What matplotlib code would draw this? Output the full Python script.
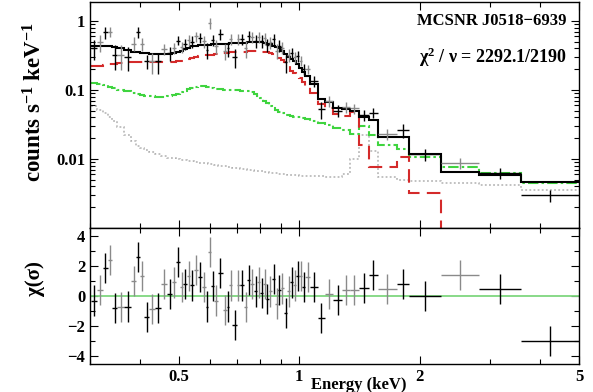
import numpy as np
import matplotlib.pyplot as plt
from matplotlib.ticker import FixedLocator, NullFormatter, LogLocator

plt.rcParams['font.family'] = ['Liberation Serif', 'DejaVu Serif']
plt.rcParams['font.weight'] = 'bold'
plt.rcParams['mathtext.fontset'] = 'custom'
plt.rcParams['mathtext.rm'] = 'Liberation Serif:bold'
plt.rcParams['mathtext.default'] = 'rm'

# bin edges (keV)
edges = [0.301, 0.313, 0.323, 0.333, 0.341, 0.351, 0.365, 0.380, 0.391, 0.400,
         0.410, 0.422, 0.436, 0.452, 0.468, 0.482, 0.493, 0.503, 0.513, 0.524,
         0.534, 0.547, 0.559, 0.572, 0.584, 0.593, 0.601, 0.614, 0.628, 0.643,
         0.658, 0.669, 0.681, 0.697, 0.713, 0.729, 0.742, 0.755, 0.771, 0.784,
         0.798, 0.812, 0.826, 0.840, 0.855, 0.870, 0.885, 0.900, 0.916, 0.932,
         0.948, 0.965, 0.982, 0.999, 1.016, 1.034, 1.065, 1.112, 1.161, 1.216,
         1.277, 1.337, 1.409, 1.492, 1.572, 1.754, 1.885, 2.262, 2.816, 3.587, 5.0]

# total model (black)
model = [.44, .44, .44, .43, .42, .41, .38, .36, .35, .34,
         .34, .335, .33, .33, .33, .34, .35, .37, .39, .41,
         .43, .44, .45, .45, .45, .45, .46, .46, .47, .47,
         .47, .48, .48, .48, .48, .48, .49, .49, .49, .49,
         .49, .48, .47, .46, .44, .42, .40, .37, .33, .30,
         .28, .26, .24, .21, .18, .16, .12, .075, .068, .055,
         .053, .050, .040, .037, .021, .021, .0118, .0065, .0058, .0047]

# thermal component (red dashed)
comp_red = [.22, .225, .23, .235, .24, .245, .25, .25, .25, .25,
            .25, .25, .25, .25, .25, .255, .26, .265, .27, .28,
            .29, .30, .31, .315, .32, .32, .325, .33, .335, .34,
            .345, .35, .35, .355, .36, .36, .365, .365, .365, .365,
            .36, .355, .35, .34, .33, .31, .29, .27, .25, .22,
            .19, .175, .165, .15, .13, .11, .09, .062, .055, .045,
            .042, .048, .016, .0076, .0076, .0107, .0032, 1e-5, 1e-5, 1e-5]

# background component (green dash-dot)
comp_green = [.126, .122, .117, .112, .107, .101, .095, .09, .087, .085,
              .083, .081, .08, .08, .081, .084, .088, .092, .097, .102,
              .106, .11, .113, .114, .112, .11, .107, .104, .102, .101,
              .1, .1, .1, .099, .098, .097, .096, .092, .088, .082,
              .076, .07, .064, .059, .055, .051, .048, .046, .044, .043,
              .042, .041, .04, .04, .039, .038, .036, .033, .031, .028,
              .026, .023, .03, .022, .016, .014, .0107, .0076, .0063, .0045]

# grey dotted component
comp_grey = [.058, .051, .046, .041, .035, .029, .022, .018, .0155, .0145,
             .0135, .0125, .0117, .011, .0105, .0102, .01, .0098, .0096, .0094,
             .0092, .009, .0088, .0087, .0086, .0085, .0084, .0082, .008, .0078,
             .0077, .0076, .0075, .0073, .0072, .0071, .007, .0069, .0068, .0067,
             .0066, .0065, .0064, .0063, .0062, .0062, .0061, .006, .006, .0059,
             .0059, .0058, .0058, .0057, .0057, .0057, .0056, .0056, .0055, .0055,
             .006, .01, .022, .013, .0055, .005, .0048, .0045, .0042, .0036]

# measured rate and 1-sigma errors
rate = [.40, .49, .68, .70, .32, .32, .30, .47, .69, .47,
        .26, .26, .26, .39, .34, .41, .52, .42, .46, .53,
        .50, .60, .57, .51, .38, .93, .53, .43, .65, .37,
        .40, .55, .30, .55, .55, .40, .60, .58, .52, .59,
        .51, .56, .45, .49, .55, .37, .44, .41, .25, .32,
        .34, .30, .31, .265, .20, .20, .134, .053, .070, .050,
        .057, .054, .044, .047, .023, .026, .0117, .0087, .0063, .0030]
rate_err = [.13, .13, .13, .12, .126, .123, .114, .108, .13, .10,
            .057, .088, .088, .073, .073, .075, .077, .081, .086, .09,
            .095, .097, .099, .099, .099, .165, .10, .10, .12, .10,
            .10, .105, .095, .10, .10, .105, .105, .108, .108, .108,
            .108, .105, .10, .10, .097, .092, .088, .081, .073, .066,
            .062, .057, .053, .042, .036, .032, .024, .015, .013, .010,
            .010, .0096, .008, .0074, .0042, .006, .0024, .0016, .0011, .0006]

# residuals in sigma
chi = [-0.3, 0.4, 1.85, 2.4, -0.8, -0.75, -0.7, 1.0, 2.6, 1.3,
       -1.4, -0.85, -0.8, 0.8, 0.15, 0.9, 2.25, 0.6, 0.8, 1.3,
       0.7, 1.7, 1.25, 0.6, -0.7, 2.9, 0.65, -0.3, 1.5, -0.95,
       -0.7, 0.7, -1.9, 0.7, 0.7, -0.75, 1.05, 0.8, 0.3, 0.9,
       0.2, 0.8, -0.2, 0.3, 1.1, -0.5, 0.4, 0.5, -1.1, 0.3,
       0.9, 0.7, 1.3, 1.3, 0.6, 1.25, 0.6, -1.45, 0.15, -0.25,
       0.4, 0.4, 0.55, 1.4, 0.45, 0.8, 0.0, 1.4, 0.45, -3.0]

# 0 = black points, 1 = grey points
group = [0, 1, 0, 1, 0, 1, 0, 1, 0, 1,
         0, 1, 0, 1, 0, 1, 0, 1, 0, 1,
         0, 1, 0, 1, 0, 1, 0, 1, 0, 1,
         0, 1, 0, 1, 0, 1, 0, 1, 0, 1,
         0, 1, 0, 1, 0, 1, 0, 1, 0, 1,
         0, 1, 0, 1, 0, 1, 0, 0, 1, 0,
         1, 1, 0, 0, 1, 0, 0, 1, 0, 0]

edges = np.array(edges)
cen = np.sqrt(edges[:-1] * edges[1:])
xlo = cen - edges[:-1]
xhi = edges[1:] - cen
cols = ['black' if g == 0 else '#8a8a8a' for g in group]

fig = plt.figure(figsize=(5.93, 3.92), dpi=100)
ax1 = fig.add_axes([90/593, 1-228/392, 489/593, 226/392])
ax2 = fig.add_axes([90/593, 1-364/392, 489/593, 136/392], sharex=ax1)

# top panel
ax1.stairs(comp_grey, edges, color='#b0b0b0', linestyle=(0, (1.2, 1.5)), lw=1.1, baseline=None)
ax1.stairs(comp_green, edges, color='#3fd43f', linestyle=(0, (5, 1.5, 1.2, 1.5)), lw=1.5, baseline=None)
ax1.stairs(comp_red, edges, color='#d42a2a', linestyle=(0, (6.5, 3.5)), lw=1.5, baseline=None)
ax1.stairs(model, edges, color='black', lw=1.5, baseline=None)
for i in range(len(cen)):
    ax1.errorbar(cen[i], rate[i], xerr=[[xlo[i]], [xhi[i]]], yerr=rate_err[i],
                 fmt='none', ecolor=cols[i], elinewidth=1.0)

ax1.set_xscale('log')
ax1.set_yscale('log')
ax1.set_xlim(0.3, 5.0)
ax1.set_ylim(0.001, 1.88)
ax1.set_yticks([0.01, 0.1, 1])
ax1.set_yticklabels(['0.01', '0.1', '1'])
ax1.yaxis.set_minor_locator(LogLocator(base=10, subs=np.arange(2, 10)))
ax1.yaxis.set_minor_formatter(NullFormatter())
ax1.tick_params(labelbottom=False)

ax1.text(0.975, 0.915, 'MCSNR J0518\u22126939', transform=ax1.transAxes,
         ha='right', va='center', fontsize=12)
ax1.text(0.975, 0.755, '\u03c7$^2$ / \u03bd = 2292.1/2190', transform=ax1.transAxes,
         ha='right', va='center', fontsize=13)

# residual panel
ax2.axhline(0, color='#7fd77f', lw=1.3)
for i in range(len(cen)):
    ax2.errorbar(cen[i], chi[i], xerr=[[xlo[i]], [xhi[i]]], yerr=1,
                 fmt='none', ecolor=cols[i], elinewidth=1.0)
ax2.set_ylim(-4.5, 4.5)
ax2.set_yticks([-4, -2, 0, 2, 4])
ax2.set_yticklabels(['\u22124', '\u22122', '0', '2', '4'])
ax2.yaxis.set_minor_locator(FixedLocator([-3, -1, 1, 3]))
ax2.set_xticks([0.5, 1, 2, 5])
ax2.set_xticklabels(['0.5', '1', '2', '5'])
ax2.xaxis.set_minor_locator(FixedLocator([0.3, 0.4, 0.6, 0.7, 0.8, 0.9, 3, 4]))
ax2.xaxis.set_minor_formatter(NullFormatter())

for ax in (ax1, ax2):
    ax.tick_params(which='both', direction='in', top=True, right=True, labelsize=12)
    ax.tick_params(which='major', length=6, width=0.8)
    ax.tick_params(which='minor', length=3.5, width=0.8)
    for s in ax.spines.values():
        s.set_linewidth(1.0)

fig.text(35/593, 1-102/392, 'counts s$^{-1}$ keV$^{-1}$', rotation=90,
         ha='center', va='center', fontsize=16.5)
fig.text(35/593, 1-279/392, '\u03c7(\u03c3)', rotation=90,
         ha='center', va='center', fontsize=15)
fig.text(359/593, 1-385/392, 'Energy (keV)', ha='center', va='center', fontsize=12)

fig.savefig('out.png', dpi=100)
